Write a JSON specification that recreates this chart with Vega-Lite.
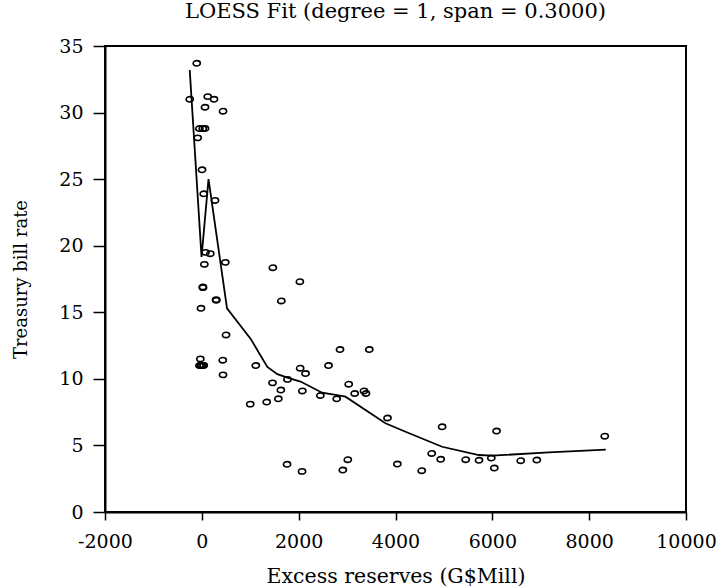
{
  "$schema": "https://vega.github.io/schema/vega-lite/v6.json",
  "autosize": {"type": "none"},
  "width": 581,
  "height": 466,
  "padding": {"left": 105, "top": 46, "right": 35, "bottom": 75},
  "background": "white",
  "config": {
    "view": {"stroke": "black", "strokeWidth": 2},
    "font": "DejaVu Serif",
    "axis": {"grid": false, "labelFlush": false, "labelOverlap": false, "domainColor": "black", "domainWidth": 2, "tickColor": "black", "tickWidth": 1.5, "labelColor": "black", "titleColor": "black", "labelFont": "DejaVu Serif", "titleFont": "DejaVu Serif", "labelFontSize": 19, "titleFontSize": 19, "titleFontWeight": "normal"}
  },
  "title": {"text": "LOESS Fit (degree = 1, span = 0.3000)", "font": "DejaVu Serif", "fontSize": 21, "fontWeight": "normal", "color": "black", "anchor": "middle", "frame": "group", "offset": 15},
  "datasets": {
    "pts": [
      {"x": -105, "y": 33.7}, {"x": -250, "y": 31.0}, {"x": 122, "y": 31.2}, {"x": 252, "y": 31.0},
      {"x": 66, "y": 30.4}, {"x": 438, "y": 30.1}, {"x": -50, "y": 28.8}, {"x": 20, "y": 28.8},
      {"x": 66, "y": 28.8}, {"x": -85, "y": 28.1}, {"x": 4, "y": 25.7}, {"x": 39, "y": 23.9},
      {"x": 272, "y": 23.4}, {"x": 76, "y": 19.5}, {"x": 175, "y": 19.4}, {"x": 52, "y": 18.6},
      {"x": 485, "y": 18.75}, {"x": 1467, "y": 18.35}, {"x": 19, "y": 16.9}, {"x": 25, "y": 16.85},
      {"x": 293, "y": 15.95}, {"x": 300, "y": 15.9}, {"x": -17, "y": 15.3}, {"x": 500, "y": 13.3},
      {"x": -31, "y": 11.5}, {"x": 432, "y": 11.4}, {"x": -50, "y": 11.0}, {"x": -20, "y": 11.0},
      {"x": 10, "y": 11.0}, {"x": 40, "y": 11.0}, {"x": 1115, "y": 11.0}, {"x": 438, "y": 10.3},
      {"x": 2025, "y": 17.3}, {"x": 1642, "y": 15.85}, {"x": 2854, "y": 12.2}, {"x": 3459, "y": 12.2},
      {"x": 2031, "y": 10.8}, {"x": 2142, "y": 10.4}, {"x": 2617, "y": 11.0}, {"x": 1460, "y": 9.7},
      {"x": 1770, "y": 9.96}, {"x": 1632, "y": 9.16}, {"x": 2076, "y": 9.09}, {"x": 3034, "y": 9.6},
      {"x": 3349, "y": 9.09}, {"x": 3390, "y": 8.9}, {"x": 3157, "y": 8.9}, {"x": 1000, "y": 8.1},
      {"x": 1340, "y": 8.26}, {"x": 1580, "y": 8.5}, {"x": 2448, "y": 8.75}, {"x": 2786, "y": 8.5},
      {"x": 3835, "y": 7.06}, {"x": 4963, "y": 6.4}, {"x": 6087, "y": 6.08}, {"x": 1760, "y": 3.58},
      {"x": 2070, "y": 3.05}, {"x": 3015, "y": 3.93}, {"x": 2912, "y": 3.15}, {"x": 4038, "y": 3.6},
      {"x": 4542, "y": 3.1}, {"x": 4748, "y": 4.4}, {"x": 4934, "y": 3.96}, {"x": 5450, "y": 3.93},
      {"x": 5725, "y": 3.88}, {"x": 5979, "y": 4.05}, {"x": 6041, "y": 3.3}, {"x": 6587, "y": 3.85},
      {"x": 6919, "y": 3.9}, {"x": 8322, "y": 5.69}
    ],
    "fit": [
      {"x": -250, "y": 33.2}, {"x": -6, "y": 19.15}, {"x": 138, "y": 25.0}, {"x": 520, "y": 15.3},
      {"x": 1010, "y": 13.0}, {"x": 1353, "y": 10.9}, {"x": 1560, "y": 10.35}, {"x": 1767, "y": 10.1},
      {"x": 2038, "y": 9.8}, {"x": 2485, "y": 8.96}, {"x": 2760, "y": 8.8}, {"x": 2967, "y": 8.66},
      {"x": 3380, "y": 7.66}, {"x": 3793, "y": 6.66}, {"x": 4207, "y": 6.03}, {"x": 4963, "y": 4.9},
      {"x": 5721, "y": 4.28}, {"x": 5996, "y": 4.23}, {"x": 7167, "y": 4.48}, {"x": 8343, "y": 4.68}
    ]
  },
  "layer": [
    {
      "data": {"name": "pts"},
      "mark": {"type": "point", "shape": "M-1,0A1,0.74,0,1,0,1,0A1,0.74,0,1,0,-1,0Z", "filled": false, "stroke": "black", "strokeWidth": 1.6, "size": 52, "opacity": 1},
      "encoding": {
        "x": {"field": "x", "type": "quantitative", "scale": {"domain": [-2000, 10000], "nice": false, "zero": false},
          "axis": {"values": [-2000, 0, 2000, 4000, 6000, 8000, 10000], "labelExpr": "'' + datum.value", "tickSize": 8, "labelPadding": 12, "title": "Excess reserves (G$Mill)", "titleFontSize": 20.5, "titlePadding": 15}},
        "y": {"field": "y", "type": "quantitative", "scale": {"domain": [0, 35], "nice": false},
          "axis": {"values": [0, 5, 10, 15, 20, 25, 30, 35], "tickSize": 12, "labelPadding": 10, "title": "Treasury bill rate", "titleFontSize": 18, "titlePadding": 28}}
      }
    },
    {
      "data": {"name": "fit"},
      "mark": {"type": "line", "color": "black", "strokeWidth": 1.8},
      "encoding": {
        "x": {"field": "x", "type": "quantitative"},
        "y": {"field": "y", "type": "quantitative"}
      }
    }
  ]
}
